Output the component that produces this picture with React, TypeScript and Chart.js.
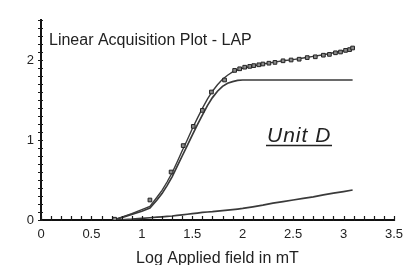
import React, { useEffect, useRef } from "react";
import { Chart, registerables } from "chart.js";

Chart.register(...registerables);

// Measured IRM data (log field in mT vs IRM)
const fieldMeasured = [0.73, 1.08, 1.29, 1.41, 1.51, 1.6, 1.69, 1.82, 1.92, 1.97, 2.02, 2.07, 2.11, 2.16, 2.2, 2.26, 2.32, 2.4, 2.48, 2.56, 2.64, 2.72, 2.8, 2.86, 2.92, 2.97, 3.02, 3.06, 3.09];
const irmMeasured = [0.01, 0.25, 0.6, 0.93, 1.17, 1.37, 1.6, 1.75, 1.87, 1.89, 1.91, 1.92, 1.93, 1.94, 1.95, 1.96, 1.97, 1.99, 2.0, 2.01, 2.03, 2.04, 2.06, 2.07, 2.09, 2.1, 2.12, 2.13, 2.15];

// Model curves
const fieldModel = [0.72, 0.8, 0.9, 1.0, 1.08, 1.15, 1.2, 1.25, 1.3, 1.35, 1.4, 1.45, 1.5, 1.55, 1.6, 1.65, 1.7, 1.75, 1.8, 1.85, 1.9, 1.95, 2.0, 2.1, 2.2, 2.3, 2.4, 2.5, 2.6, 2.7, 2.8, 2.9, 3.0, 3.09];
const sumModel = [0, 0.035, 0.08, 0.13, 0.17, 0.285, 0.37, 0.475, 0.59, 0.725, 0.865, 1.0, 1.14, 1.27, 1.395, 1.51, 1.61, 1.69, 1.76, 1.81, 1.85, 1.875, 1.895, 1.925, 1.95, 1.97, 1.99, 2.005, 2.025, 2.045, 2.065, 2.09, 2.115, 2.15];
const component1 = [0, 0.03, 0.07, 0.11, 0.15, 0.25, 0.33, 0.43, 0.54, 0.67, 0.8, 0.93, 1.06, 1.19, 1.31, 1.43, 1.53, 1.61, 1.67, 1.71, 1.73, 1.745, 1.75, 1.75, 1.75, 1.75, 1.75, 1.75, 1.75, 1.75, 1.75, 1.75, 1.75, 1.75];
const component2 = [0, 0.003, 0.01, 0.02, 0.028, 0.035, 0.04, 0.045, 0.05, 0.057, 0.065, 0.072, 0.08, 0.087, 0.095, 0.1, 0.105, 0.112, 0.118, 0.124, 0.13, 0.137, 0.145, 0.165, 0.185, 0.21, 0.23, 0.25, 0.27, 0.29, 0.315, 0.335, 0.355, 0.375];

const plotTitle = "Linear Acquisition Plot - LAP";
const unitLabel = "Unit D";
const xAxisTitle = "Log Applied field in mT";

const FONT = "'Liberation Sans', Arial, sans-serif";

const pts = (xs: number[], ys: number[]) => xs.map((x, i) => ({ x, y: ys[i] }));

const near = (v: number, step: number) => Math.abs(v / step - Math.round(v / step)) < 1e-6;

const decorPlugin = {
  id: "decor",
  afterDraw(chart: any) {
    const { ctx, chartArea, scales } = chart;
    const xs = scales.x;
    const ys = scales.y;
    ctx.save();
    // tick marks
    ctx.strokeStyle = "#1a1a1a";
    ctx.lineWidth = 1.2;
    ctx.beginPath();
    xs.ticks.forEach((t: any) => {
      const px = Math.round(xs.getPixelForValue(t.value)) + 0.5;
      ctx.moveTo(px, chartArea.bottom - 4);
      ctx.lineTo(px, chartArea.bottom + 1);
    });
    ys.ticks.forEach((t: any) => {
      const py = Math.round(ys.getPixelForValue(t.value)) + 0.5;
      ctx.moveTo(chartArea.left - 3, py);
      ctx.lineTo(chartArea.left + 2, py);
    });
    ctx.stroke();

    // annotations
    ctx.fillStyle = "#222";
    ctx.font = `16px ${FONT}`;
    ctx.textBaseline = "alphabetic";
    ctx.textAlign = "left";
    ctx.fillText(plotTitle, chartArea.left + 8, chartArea.top + 25);

    ctx.font = `italic 21px ${FONT}`;
    try {
      (ctx as any).letterSpacing = "1px";
    } catch (e) {}
    const ux = chartArea.left + 226;
    const uy = chartArea.top + 122;
    ctx.fillText(unitLabel, ux, uy);
    (ctx as any).letterSpacing = "0px";
    ctx.strokeStyle = "#222";
    ctx.lineWidth = 1.5;
    ctx.beginPath();
    ctx.moveTo(ux - 1, uy + 3.5);
    ctx.lineTo(ux + 65, uy + 3.5);
    ctx.stroke();
    ctx.restore();
  },
};

export default function App() {
  const canvasRef = useRef<HTMLCanvasElement | null>(null);

  useEffect(() => {
    if (!canvasRef.current) return;
    const chart = new Chart(canvasRef.current, {
      type: "scatter",
      data: {
        datasets: [
          {
            label: "Measured",
            data: pts(fieldMeasured, irmMeasured),
            showLine: false,
            pointStyle: "rect",
            pointRadius: 2.6,
            backgroundColor: "#8a8a8a",
            borderColor: "#222",
            borderWidth: 1,
          },
          {
            label: "Sum",
            data: pts(fieldModel, sumModel),
            showLine: true,
            pointRadius: 0,
            borderColor: "#3a3a3a",
            borderWidth: 1.4,
            tension: 0,
          },
          {
            label: "Component 1",
            data: pts(fieldModel, component1),
            showLine: true,
            pointRadius: 0,
            borderColor: "#3a3a3a",
            borderWidth: 1.7,
            tension: 0,
          },
          {
            label: "Component 2",
            data: pts(fieldModel, component2),
            showLine: true,
            pointRadius: 0,
            borderColor: "#3a3a3a",
            borderWidth: 1.7,
            tension: 0,
          },
        ],
      },
      options: {
        animation: false,
        responsive: false,
        maintainAspectRatio: false,
        layout: { padding: { left: 0, right: 13, top: 20, bottom: 0 } },
        plugins: {
          legend: { display: false },
          tooltip: { enabled: false },
          title: { display: false },
        },
        scales: {
          x: {
            type: "linear",
            min: 0,
            max: 3.5,
            afterFit: (s: any) => {
              s.height = 45;
            },
            grid: { display: false, drawOnChartArea: false, drawTicks: false, tickLength: 0 },
            border: { display: true, color: "#111", width: 2 },
            ticks: {
              stepSize: 0.1,
              autoSkip: false,
              maxTicksLimit: 200,
              maxRotation: 0,
              padding: 7,
              color: "#222",
              font: { family: FONT, size: 13 },
              callback: (v: any) => (near(Number(v), 0.5) ? String(Math.round(Number(v) * 2) / 2) : ""),
            },
            title: {
              display: true,
              text: xAxisTitle,
              color: "#222",
              font: { family: FONT, size: 16 },
              padding: { top: 0, bottom: -3 },
            },
          },
          y: {
            type: "linear",
            min: 0,
            max: 2.5,
            afterFit: (s: any) => {
              s.width = 41;
            },
            grid: { display: false, drawOnChartArea: false, drawTicks: false, tickLength: 0 },
            border: { display: true, color: "#111", width: 2 },
            ticks: {
              stepSize: 0.1,
              autoSkip: false,
              maxTicksLimit: 200,
              padding: 7,
              color: "#222",
              font: { family: FONT, size: 13 },
              callback: (v: any) => (near(Number(v), 1) ? String(Math.round(Number(v))) : ""),
            },
          },
        },
      },
      plugins: [decorPlugin],
    } as any);
    return () => chart.destroy();
  }, []);

  return (
    <div style={{ position: "fixed", left: 0, top: 0, width: 410, height: 265, background: "#fff" }}>
      <canvas ref={canvasRef} width={410} height={265} style={{ width: 410, height: 265 }} />
    </div>
  );
}
